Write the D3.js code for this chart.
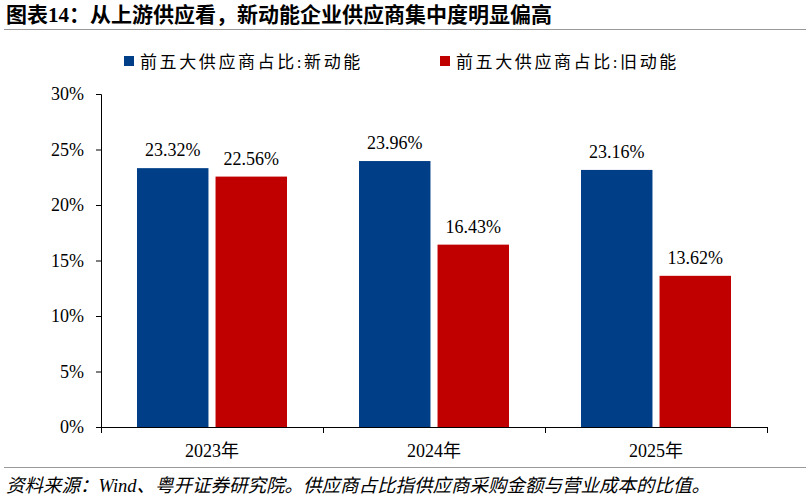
<!DOCTYPE html>
<html>
<head>
<meta charset="UTF-8" />
<script src="https://d3js.org/d3.v7.min.js"></script>
<style>
    body { margin: 0; background: #fff; }
    text { font-family: "Times New Roman", "Liberation Serif", "DejaVu Serif", "Noto Sans CJK SC", serif; }
</style>
</head>
<body>
<div id="chart"></div>
<script>
    // data
    const years = ['2023年', '2024年', '2025年']
    const seriesNames = ['前五大供应商占比:新动能', '前五大供应商占比:旧动能']
    const newEnergy = [23.32, 23.96, 23.16]
    const oldEnergy = [22.56, 16.43, 13.62]
    const yTicks = [0, 5, 10, 15, 20, 25, 30]
    const colors = ['#003F87', '#C00000']

    const W = 810, H = 499
    const margin = { top: 94, right: 43, bottom: 72, left: 101 }
    const width = W - margin.left - margin.right,
        height = H - margin.top - margin.bottom

    const svg = d3.select('#chart').append('svg')
        .attr('width', W).attr('height', H)

    // title + rules
    svg.append('text')
        .attr('x', 6).attr('y', 22)
        .style('font-size', '21px').style('font-weight', 'bold')
        .text('图表14：从上游供应看，新动能企业供应商集中度明显偏高')
    svg.append('line').attr('x1', 4).attr('x2', 806).attr('y1', 29.5).attr('y2', 29.5)
        .attr('stroke', '#999').attr('stroke-width', 1)
    svg.append('line').attr('x1', 4).attr('x2', 806).attr('y1', 467.5).attr('y2', 467.5)
        .attr('stroke', '#999').attr('stroke-width', 1)
    svg.append('text')
        .attr('x', 6).attr('y', 492)
        .style('font-size', '18.5px').style('font-style', 'italic')
        .text('资料来源：Wind、粤开证券研究院。供应商占比指供应商采购金额与营业成本的比值。')

    // legend
    const legendX = [124, 440]
    seriesNames.forEach((name, i) => {
        svg.append('rect').attr('x', legendX[i]).attr('y', 56).attr('width', 10).attr('height', 10)
            .attr('fill', colors[i])
        svg.append('text').attr('x', legendX[i] + 16).attr('y', 68)
            .style('font-size', '17px').style('letter-spacing', '2.6px')
            .text(name)
    })

    const g = svg.append('g').attr('transform', `translate(${margin.left}, ${margin.top})`)

    const x = d3.scaleBand().domain(years).range([0, width]).paddingInner(0).paddingOuter(0)
    const x1 = d3.scaleBand().domain([0, 1]).range([36, x.bandwidth() - 36]).paddingInner(0.09)
    const y = d3.scaleLinear().domain([0, 30]).range([height, 0])

    const data = years.map((yr, i) => ({ year: yr, vals: [newEnergy[i], oldEnergy[i]] }))

    const groups = g.selectAll('.grp').data(data).join('g')
        .attr('transform', d => `translate(${x(d.year)},0)`)

    groups.selectAll('rect').data(d => d.vals.map((v, k) => ({ v, k }))).join('rect')
        .attr('x', d => x1(d.k))
        .attr('y', d => y(d.v))
        .attr('width', x1.bandwidth())
        .attr('height', d => height - y(d.v))
        .attr('fill', d => colors[d.k])

    groups.selectAll('.lbl').data(d => d.vals.map((v, k) => ({ v, k }))).join('text')
        .attr('class', 'lbl')
        .attr('x', d => x1(d.k) + x1.bandwidth() / 2)
        .attr('y', d => y(d.v) - 12)
        .attr('text-anchor', 'middle')
        .style('font-size', '18px')
        .text(d => d.v.toFixed(2) + '%')

    // y axis
    const yAxis = g.append('g')
        .call(d3.axisLeft(y).tickValues(yTicks).tickFormat(d => d + '%').tickSize(5).tickPadding(12))
    yAxis.selectAll('text').style('font-size', '18px').attr('fill', '#000')
    yAxis.selectAll('line, path').attr('stroke', '#000')
    yAxis.select('.domain').attr('d', `M-5,0.5H0.5V${height}`)

    // x axis
    const xAxis = g.append('g').attr('transform', `translate(0, ${height})`)
    xAxis.append('line').attr('x1', 0).attr('x2', width).attr('y1', 0.5).attr('y2', 0.5).attr('stroke', '#000')
    const bounds = years.map(d => x(d)).concat([width])
    xAxis.selectAll('.tk').data(bounds).join('line')
        .attr('x1', d => d + 0.5).attr('x2', d => d + 0.5).attr('y1', 0).attr('y2', 6)
        .attr('stroke', '#000')
    xAxis.selectAll('.xl').data(years).join('text')
        .attr('x', d => x(d) + x.bandwidth() / 2)
        .attr('y', 30)
        .attr('text-anchor', 'middle')
        .style('font-size', '18px')
        .text(d => d)
</script>
</body>
</html>
